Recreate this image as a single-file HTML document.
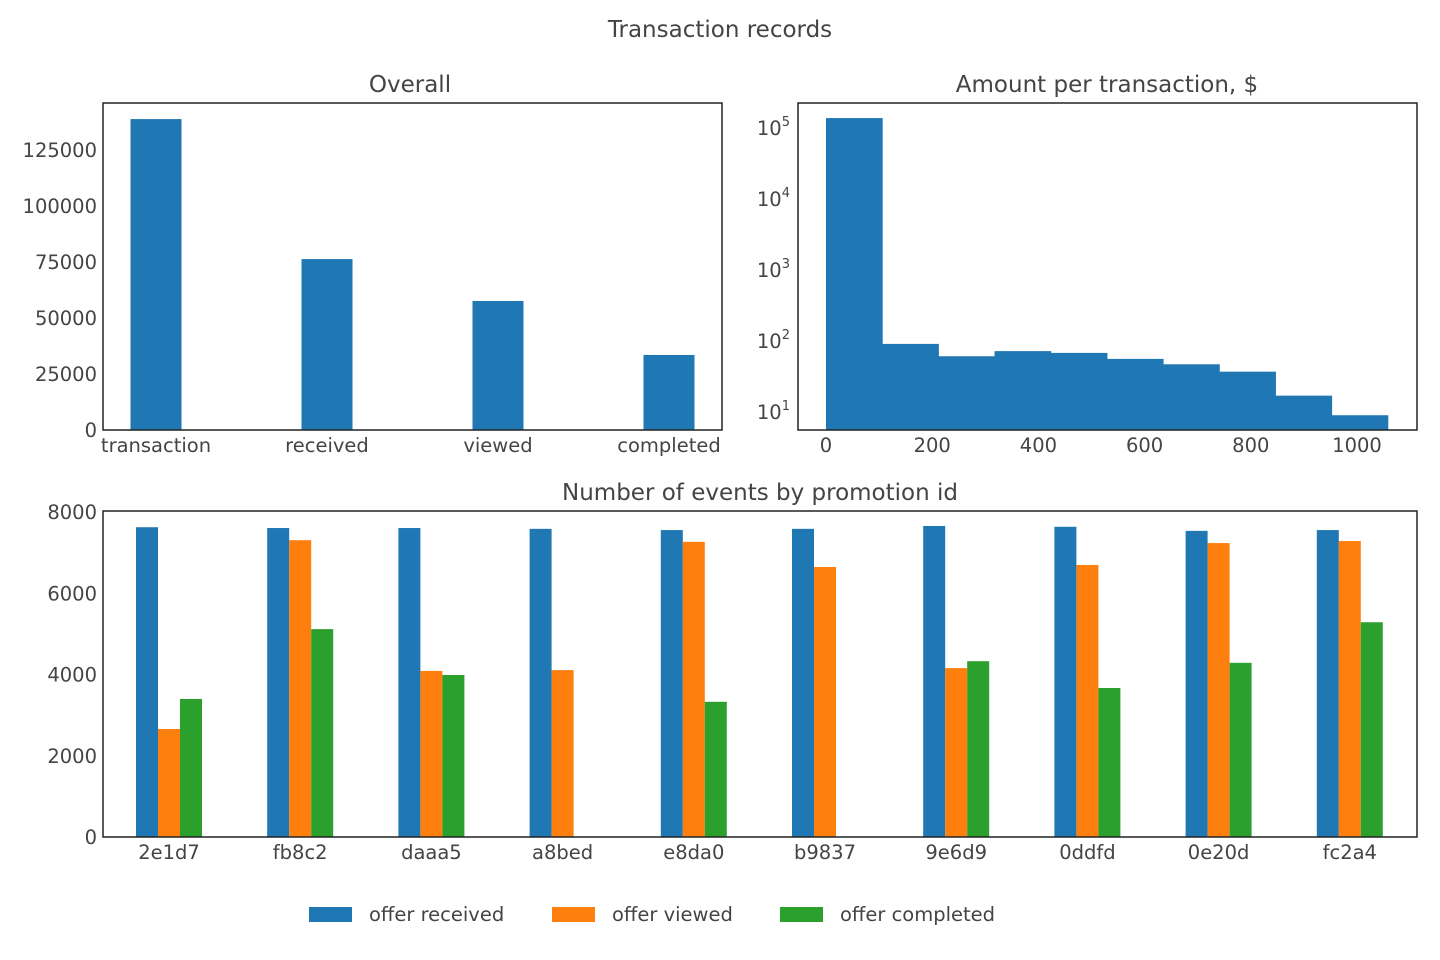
<!DOCTYPE html>
<html><head><meta charset="utf-8"><style>
html,body{margin:0;padding:0;background:#fff;}
svg{display:block;font-family:"DejaVu Sans","Liberation Sans",sans-serif;}
text{fill:#444;}
</style></head><body>
<svg id="s" width="1440" height="960" xmlns="http://www.w3.org/2000/svg">
<text x="720" y="37" font-size="23" text-anchor="middle">Transaction records</text>
<text x="410" y="92" font-size="23" text-anchor="middle">Overall</text>
<text x="1107" y="92" font-size="23" text-anchor="middle">Amount per transaction, $</text>
<text x="760" y="500" font-size="23" text-anchor="middle">Number of events by promotion id</text>
<g id="g1"></g>
<g id="g2"></g>
<g id="g3"></g>
<g id="lg"></g>
</svg>
<script>
const overallCats=["transaction","received","viewed","completed"];
const overallVals=[138800,76300,57600,33500];
const histEdges=[0,105.8,211.6,317.4,423.2,529,634.8,740.6,846.4,952.2,1058];
const histCounts=[138000,91,61,72,68,56,47,37,17,9];
const promoIds=["2e1d7","fb8c2","daaa5","a8bed","e8da0","b9837","9e6d9","0ddfd","0e20d","fc2a4"];
const received=[7630,7610,7610,7590,7560,7590,7660,7640,7540,7560];
const viewed=[2660,7310,4090,4110,7270,6650,4160,6700,7240,7290];
const completed=[3400,5120,3990,0,3330,0,4330,3670,4290,5290];
const seriesNames=["offer received","offer viewed","offer completed"];
const colors=["#1f77b4","#ff7f0e","#2ca02c"];
const NS="http://www.w3.org/2000/svg";
const FS=19.5;
function mk(p,t,a,txt){const e=document.createElementNS(NS,t);for(const k in a)e.setAttribute(k,a[k]);if(txt!==undefined)e.textContent=txt;p.appendChild(e);return e;}
(function(){
const g=document.getElementById('g1');
const L=103,R=722,T=103,B=430;
const x=i=>L+(i+0.31)*(R-L)/3.62, y=v=>B-v*56/25000;
[0,25000,50000,75000,100000,125000].forEach(v=>{const t=mk(g,'text',{x:97,y:y(v)+7,'font-size':FS,'text-anchor':'end'},String(v));});
overallCats.forEach((c,i)=>{const r=mk(g,'rect',{x:x(i)-25.5,y:y(overallVals[i]),width:51,height:B-y(overallVals[i]),fill:colors[0]});
const t=mk(g,'text',{x:x(i),y:452,'font-size':FS,'text-anchor':'middle'},c);});
const f=mk(g,'rect',{x:L,y:T,width:R-L,height:B-T,fill:'none',stroke:'#222','stroke-width':1.5});
})();
(function(){
const g=document.getElementById('g2');
const L=798,R=1417,T=103,B=430;
const x=v=>826+v*0.531, y=v=>412-(Math.log10(v)-1)*71;
[1,2,3,4,5].forEach(p=>{const t=mk(g,'text',{x:790,y:y(Math.pow(10,p))+7,'font-size':FS,'text-anchor':'end'});
mk(t,'tspan',{},'10');mk(t,'tspan',{dy:-9,'font-size':13},String(p));});
[0,200,400,600,800,1000].forEach(v=>{const t=mk(g,'text',{x:x(v),y:452,'font-size':FS,'text-anchor':'middle'},String(v));});
histCounts.forEach((c,i)=>{const x0=x(histEdges[i]),x1=x(histEdges[i+1]);const r=mk(g,'rect',{x:x0,y:y(c),width:x1-x0+0.5,height:B-y(c),fill:colors[0]});});
const f=mk(g,'rect',{x:L,y:T,width:R-L,height:B-T,fill:'none',stroke:'#222','stroke-width':1.5});
})();
(function(){
const g=document.getElementById('g3');
const L=103,R=1417,T=511,B=837;
const x=i=>169+i*131.2, y=v=>B-v*0.0406;
[0,2000,4000,6000,8000].forEach(v=>{const t=mk(g,'text',{x:97,y:y(v)+7,'font-size':FS,'text-anchor':'end'},String(v));});
const ser=[received,viewed,completed];
promoIds.forEach((id,i)=>{ser.forEach((s,k)=>{const v=s[i];const r=mk(g,'rect',{x:x(i)-33+k*22,y:y(v),width:22,height:B-y(v),fill:colors[k]});});
const t=mk(g,'text',{x:x(i),y:859,'font-size':FS,'text-anchor':'middle'},id);});
const f=mk(g,'rect',{x:L,y:T,width:R-L,height:B-T,fill:'none',stroke:'#222','stroke-width':1.5});
})();
(function(){
const g=document.getElementById('lg');const xs=[309,552,780];
seriesNames.forEach((n,k)=>{const r=mk(g,'rect',{x:xs[k],y:907,width:43,height:15,fill:colors[k]});
const t=mk(g,'text',{x:xs[k]+60,y:921,'font-size':FS},n);});
})();
</script>
</body></html>
